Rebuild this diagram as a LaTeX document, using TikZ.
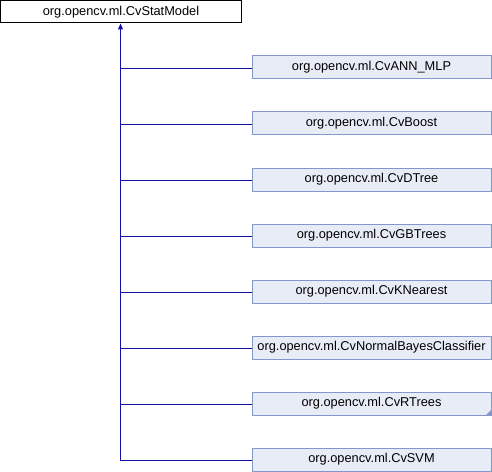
\documentclass[tikz,border=0pt]{standalone}
\usepackage{fontspec}
\setmainfont{Liberation Sans}
\usetikzlibrary{positioning,arrows.meta}
\definecolor{edgeblue}{HTML}{1010A8}
\definecolor{boxfill}{HTML}{E8ECF6}
\definecolor{boxline}{HTML}{8497CC}

\begin{document}
\begin{tikzpicture}[x=1bp,y=1bp,node distance=56bp,on grid,
  font=\fontsize{12.8bp}{15bp}\selectfont,
  cls/.style={rectangle,draw=boxline,fill=boxfill,line width=1bp,minimum width=239bp,minimum height=23bp,inner sep=0pt},
  link/.style={color=edgeblue,line width=1.1bp}]
\useasboundingbox (-121,12) rectangle (371,-460);
\node[rectangle,draw=black,line width=1bp,minimum width=240bp,minimum height=22bp,inner sep=0pt](q_base){org.opencv.ml.CvStatModel};
\node[cls](q_ann)[below right=55.5bp and 250.5bp of q_base]{org.opencv.ml.CvANN\_MLP};
\node[cls](q_boost)[below=of q_ann]{org.opencv.ml.CvBoost};
\node[cls](q_dtree)[below=of q_boost]{org.opencv.ml.CvDTree};
\node[cls](q_gbt)[below=of q_dtree]{org.opencv.ml.CvGBTrees};
\node[cls](q_knn)[below=of q_gbt]{org.opencv.ml.CvKNearest};
\node[cls](q_nbc)[below=of q_knn]{org.opencv.ml.CvNormalBayesClassifier};
\node[cls](q_rt)[below=of q_nbc]{org.opencv.ml.CvRTrees};
\node[cls](q_svm)[below=of q_rt]{org.opencv.ml.CvSVM};
\node[coordinate](q_top)[at={([xshift=-0.5bp]q_base.south)}]{};
\node[coordinate](q_0)[at={([yshift=-1.5bp]q_top |- q_svm.west)}]{};
\fill[boxline] (q_rt.south east) -- ++(-6,0) -- ++(6,6) -- cycle;
\draw[link,-{Triangle[width=5bp,length=6bp]}] (q_0) -- (q_top);
\foreach \n in {q_ann,q_boost,q_dtree,q_gbt,q_knn,q_nbc,q_rt,q_svm}
  \draw[link] ([yshift=-1bp]\n.west) -- ([yshift=-1bp]\n.west -| q_top);

\end{tikzpicture}
\end{document}
